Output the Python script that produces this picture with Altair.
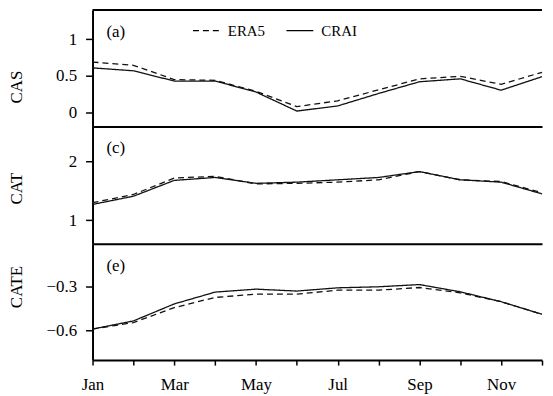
import altair as alt
import pandas as pd

months = ["Jan", "Feb", "Mar", "Apr", "May", "Jun", "Jul", "Aug", "Sep", "Oct", "Nov", "Dec"]
month_num = list(range(1, 13))

era5_cas = [0.69, 0.645, 0.45, 0.44, 0.29, 0.08, 0.16, 0.31, 0.46, 0.495, 0.385, 0.55]
crai_cas = [0.61, 0.57, 0.43, 0.43, 0.28, 0.02, 0.09, 0.26, 0.42, 0.46, 0.305, 0.49]

era5_cat = [1.30, 1.44, 1.72, 1.75, 1.62, 1.63, 1.65, 1.69, 1.83, 1.69, 1.66, 1.47]
crai_cat = [1.27, 1.41, 1.68, 1.73, 1.63, 1.65, 1.69, 1.73, 1.83, 1.69, 1.65, 1.45]

era5_cate = [-0.59, -0.546, -0.445, -0.376, -0.354, -0.354, -0.327, -0.327, -0.309, -0.345, -0.405, -0.49]
crai_cate = [-0.59, -0.535, -0.42, -0.34, -0.32, -0.333, -0.311, -0.304, -0.289, -0.338, -0.405, -0.49]

series = ["ERA5", "CRAI"]
panel_titles = ["CAS", "CAT", "CATE"]
panel_tags = ["(a)", "(c)", "(e)"]
y_domains = [[-0.19, 1.4], [0.6, 2.6], [-0.8, -0.013]]
y_ticks = [[0, 0.5, 1], [1, 2], [-0.6, -0.3]]
title_y = [77, 62, 43]
heights = [117, 118, 117]

values = {
    "CAS": (era5_cas, crai_cas),
    "CAT": (era5_cat, crai_cat),
    "CATE": (era5_cate, crai_cate),
}

FONT = "Liberation Serif"
W = 452

dash_scale = alt.Scale(domain=series, range=[[6, 4], [1, 0]])

label_expr = ("datum.value % 2 == 1 ? ['Jan','Feb','Mar','Apr','May','Jun','Jul','Aug',"
              "'Sep','Oct','Nov','Dec'][datum.value - 1] : ''")


def panel(i):
    name = panel_titles[i]
    e, c = values[name]
    df = pd.DataFrame({
        "month": month_num * 2,
        "value": e + c,
        "series": ["ERA5"] * 12 + ["CRAI"] * 12,
    })
    last = i == 2
    if last:
        xaxis = alt.Axis(
            values=month_num, labelExpr=label_expr,
            tickSize=5, labelPadding=12, domain=True, grid=False, title=None,
            labelFontSize=17, labelFont=FONT, labelColor="black",
            domainColor="black", tickColor="black", domainWidth=2, tickWidth=1.5,
            labelFlush=False,
        )
    else:
        xaxis = alt.Axis(labels=False, ticks=False, domain=True, grid=False, title=None,
                         domainColor="black", domainWidth=2)
    lines = alt.Chart(df).mark_line(color="#111", strokeWidth=1.3).encode(
        x=alt.X("month:Q", scale=alt.Scale(domain=[1, 12], nice=False), axis=xaxis),
        y=alt.Y("value:Q", scale=alt.Scale(domain=y_domains[i], nice=False, zero=False),
                axis=alt.Axis(values=y_ticks[i], format="~g", title=name, grid=False,
                              tickSize=7, labelPadding=9, labelFontSize=17, labelFont=FONT,
                              labelColor="black", titleFont=FONT, titleFontSize=17,
                              titleFontWeight="normal", titleColor="black",
                              titleAngle=-90, titleAlign="center", titleBaseline="middle",
                              titleX=-76, titleY=title_y[i],
                              domainColor="black", tickColor="black", domainWidth=2,
                              tickWidth=1.5)),
        strokeDash=alt.StrokeDash("series:N", scale=dash_scale,
                                  legend=alt.Legend(title=None) if i == 0 else None),
    )
    tag = alt.Chart(pd.DataFrame({"t": [panel_tags[i]]})).mark_text(
        align="left", baseline="middle", font=FONT, fontSize=17, color="black"
    ).encode(text="t:N", x=alt.value(14), y=alt.value(22))
    layers = [lines, tag]
    if i == 0:
        top = alt.Chart(pd.DataFrame({"t": [0]})).mark_rule(
            color="black", strokeWidth=2
        ).encode(x=alt.value(0), x2=alt.value(W), y=alt.value(0))
        layers.append(top)
    return alt.layer(*layers).properties(width=W, height=heights[i])


chart = alt.vconcat(panel(0), panel(1), panel(2), spacing=0).resolve_scale(
    x="independent", y="independent", strokeDash="shared"
).configure_view(
    stroke=None
).configure_legend(
    orient="none", legendX=100, legendY=6, direction="horizontal",
    symbolType="stroke", symbolSize=729, symbolStrokeColor="black",
    symbolStrokeWidth=1.3, labelFont=FONT, labelFontSize=15, labelColor="black",
    labelOffset=7, columnPadding=18, padding=0,
).properties(
    padding={"left": 0, "top": 0, "right": 0, "bottom": 0}
)

chart.save("out.html", embed_options={"renderer": "svg", "actions": False})
